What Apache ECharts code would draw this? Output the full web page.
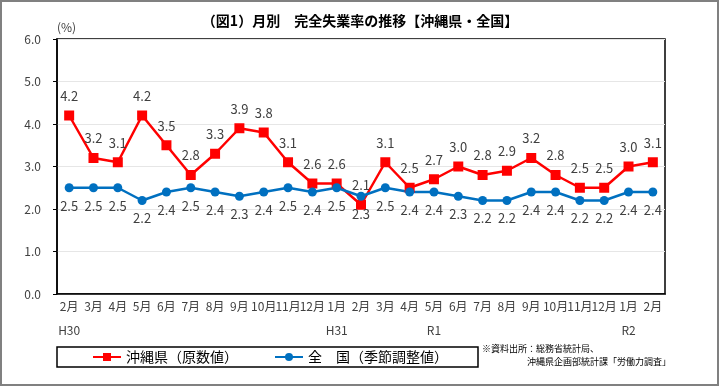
<!DOCTYPE html>
<html><head><meta charset="utf-8">
<script src="https://cdn.jsdelivr.net/npm/echarts@6/dist/echarts.min.js"></script>
<style>html,body{margin:0;padding:0;background:#fff}#c{width:720px;height:387px}</style>
</head><body><div id="c"></div>
<script>
const months = ['2月','3月','4月','5月','6月','7月','8月','9月','10月','11月','12月','1月','2月','3月','4月','5月','6月','7月','8月','9月','10月','11月','12月','1月','2月'];
const eras = ['H30','','','','','','','','','','','H31','','','','R1','','','','','','','','R2',''];
const okinawa = [4.2,3.2,3.1,4.2,3.5,2.8,3.3,3.9,3.8,3.1,2.6,2.6,2.1,3.1,2.5,2.7,3.0,2.8,2.9,3.2,2.8,2.5,2.5,3.0,3.1];
const national = [2.5,2.5,2.5,2.2,2.4,2.5,2.4,2.3,2.4,2.5,2.4,2.5,2.3,2.5,2.4,2.4,2.3,2.2,2.2,2.4,2.4,2.2,2.2,2.4,2.4];
const yTicks = {min:0, max:6, interval:1};

const FONT = '"Noto Sans CJK JP", "Noto Sans", sans-serif';
const chart = echarts.init(document.getElementById('c'));
chart.setOption({
  animation:false,
  textStyle:{fontFamily:FONT},
  title:{text:'（図1）月別　完全失業率の推移【沖縄県・全国】', left:'center', top:9,
    textStyle:{fontSize:14, fontWeight:'bold', color:'#000', fontFamily:FONT}},
  grid:{left:57, right:55, top:39, bottom:93, show:true, borderColor:'#000', borderWidth:1.5, containLabel:false},
  legend:{left:57, top:347, width:358, height:23, orient:'horizontal',
    borderColor:'#000', borderWidth:1.5, padding:[3,30,3,35], itemWidth:28, itemHeight:10, itemGap:36,
    textStyle:{fontSize:14, color:'#000', fontFamily:FONT},
    data:['沖縄県（原数値）','全　国（季節調整値）']},
  xAxis:{type:'category', data:months, boundaryGap:true,
    axisLine:{show:true, lineStyle:{color:'#000', width:1.5}}, axisTick:{show:false},
    axisLabel:{interval:0, fontSize:12, color:'#404040', margin:0, lineHeight:24,
      formatter:(v,i)=> v + '\n' + eras[i]}},
  yAxis:{type:'value', min:yTicks.min, max:yTicks.max, interval:yTicks.interval,
    name:'(%)', nameLocation:'end', nameGap:6, nameTextStyle:{fontSize:12, color:'#404040', align:'left', padding:[0,0,0,0]},
    axisLine:{show:true, lineStyle:{color:'#000', width:1.5}},
    axisTick:{show:true, inside:false, length:4, lineStyle:{color:'#000'}},
    axisLabel:{fontSize:12, color:'#404040', margin:16, formatter:v=>v.toFixed(1)},
    splitLine:{show:true, lineStyle:{color:'#e6e6e6', width:1}}},
  series:[
    {name:'沖縄県（原数値）', type:'line', data:okinawa, color:'#ff0000',
     symbol:'rect', symbolSize:10, lineStyle:{width:2.5, color:'#ff0000'}, itemStyle:{color:'#ff0000'},
     label:{show:true, position:'top', distance:8, fontSize:13, color:'#404040', formatter:p=>p.value.toFixed(1)}},
    {name:'全　国（季節調整値）', type:'line', data:national, color:'#0070c0',
     symbol:'circle', symbolSize:9, lineStyle:{width:2.5, color:'#0070c0'}, itemStyle:{color:'#0070c0'},
     label:{show:true, position:'bottom', distance:7, fontSize:13, color:'#404040', formatter:p=>p.value.toFixed(1)}}
  ],
  graphic:[
    {type:'rect', shape:{x:1, y:1, width:717, height:384}, style:{fill:'none', stroke:'#808080', lineWidth:2}, silent:true, z:-1},
    {type:'text', left:482, top:344, style:{text:'※資料出所：総務省統計局、', fontSize:9, fill:'#000', fontFamily:FONT}},
    {type:'text', left:527, top:357, style:{text:'沖縄県企画部統計課「労働力調査」', fontSize:9, fill:'#000', fontFamily:FONT}}
  ]
});
</script></body></html>
